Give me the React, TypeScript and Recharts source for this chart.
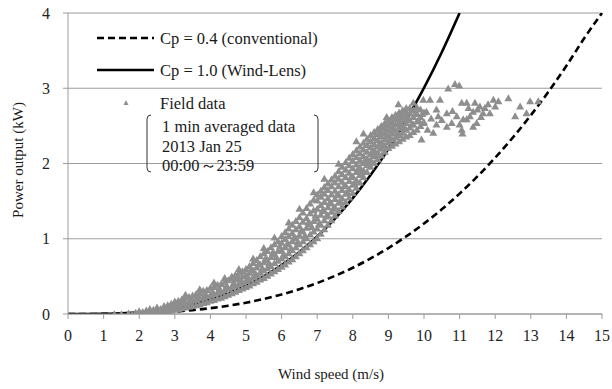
import { ComposedChart, Line, Scatter, XAxis, YAxis, CartesianGrid } from "recharts";

// theoretical curves, read at 0.5 m/s steps
const conventionalSpeeds = [
  0, 0.5, 1, 1.5, 2, 2.5, 3, 3.5, 4, 4.5, 5, 5.5, 6, 6.5, 7, 7.5, 8, 8.5, 9, 9.5, 10,
  10.5, 11, 11.5, 12, 12.5, 13, 13.5, 14, 14.5, 15,
];
const conventionalPower = [
  0, 0.0002, 0.0012, 0.004, 0.0096, 0.019, 0.032, 0.052, 0.077, 0.11, 0.15, 0.2, 0.26,
  0.33, 0.412, 0.507, 0.615, 0.738, 0.876, 1.031, 1.202, 1.391, 1.6, 1.828, 2.077,
  2.348, 2.641, 2.957, 3.298, 3.664, 4.0,
];
const windLensSpeeds = [
  0, 0.5, 1, 1.5, 2, 2.5, 3, 3.5, 4, 4.5, 5, 5.5, 6, 6.5, 7, 7.5, 8, 8.5, 9, 9.5, 10,
  10.5, 11,
];
const windLensPower = [
  0, 0.0004, 0.003, 0.01, 0.024, 0.047, 0.081, 0.129, 0.192, 0.274, 0.376, 0.5, 0.649,
  0.825, 1.031, 1.268, 1.539, 1.846, 2.191, 2.577, 3.005, 3.479, 4.0,
];

// field data: dense band, one column of readings per 0.1 m/s
const bandSpeeds = [
  2.0, 2.1, 2.2, 2.3, 2.4, 2.5, 2.6, 2.7, 2.8, 2.9, 3.0, 3.1, 3.2, 3.3, 3.4, 3.5, 3.6,
  3.7, 3.8, 3.9, 4.0, 4.1, 4.2, 4.3, 4.4, 4.5, 4.6, 4.7, 4.8, 4.9, 5.0, 5.1, 5.2, 5.3,
  5.4, 5.5, 5.6, 5.7, 5.8, 5.9, 6.0, 6.1, 6.2, 6.3, 6.4, 6.5, 6.6, 6.7, 6.8, 6.9, 7.0,
  7.1, 7.2, 7.3, 7.4, 7.5, 7.6, 7.7, 7.8, 7.9, 8.0, 8.1, 8.2, 8.3, 8.4, 8.5, 8.6, 8.7,
  8.8, 8.9, 9.0, 9.1, 9.2, 9.3, 9.4, 9.5, 9.6, 9.7, 9.8, 9.9, 10.0,
];
const bandPowers = [
  [0.01, 0.04], [0.0, 0.03], [0.02, 0.05], [0.01, 0.04, 0.07], [0.02, 0.06],
  [0.01, 0.05, 0.09], [0.03, 0.07], [0.02, 0.06, 0.11], [0.04, 0.08, 0.12],
  [0.05, 0.1, 0.14], [0.06, 0.11, 0.17], [0.07, 0.12, 0.18], [0.08, 0.14, 0.2],
  [0.09, 0.15, 0.22], [0.1, 0.16, 0.23], [0.11, 0.18, 0.25], [0.12, 0.19, 0.27],
  [0.13, 0.21, 0.28], [0.15, 0.22, 0.31], [0.16, 0.24, 0.32], [0.18, 0.25, 0.35],
  [0.19, 0.27, 0.36], [0.21, 0.29, 0.39], [0.22, 0.3, 0.4], [0.24, 0.32, 0.43],
  [0.26, 0.34, 0.45], [0.28, 0.36, 0.47, 0.5], [0.3, 0.38, 0.46, 0.52],
  [0.32, 0.4, 0.48, 0.55], [0.34, 0.42, 0.5, 0.57], [0.36, 0.44, 0.52, 0.6],
  [0.38, 0.46, 0.55, 0.64], [0.41, 0.49, 0.58, 0.68], [0.43, 0.52, 0.62, 0.72],
  [0.46, 0.55, 0.66, 0.77], [0.48, 0.58, 0.69, 0.81], [0.51, 0.61, 0.72, 0.84],
  [0.54, 0.64, 0.76, 0.89], [0.57, 0.68, 0.8, 0.93], [0.6, 0.71, 0.84, 0.97],
  [0.63, 0.74, 0.85, 0.95, 1.04], [0.66, 0.77, 0.89, 1.0, 1.09],
  [0.7, 0.81, 0.93, 1.04, 1.14], [0.73, 0.85, 0.97, 1.08, 1.19],
  [0.77, 0.89, 1.01, 1.13, 1.24], [0.81, 0.93, 1.05, 1.17, 1.29],
  [0.85, 0.97, 1.1, 1.23, 1.35], [0.89, 1.01, 1.15, 1.28, 1.41],
  [0.93, 1.06, 1.2, 1.34, 1.47], [0.97, 1.1, 1.24, 1.38, 1.52],
  [1.01, 1.14, 1.27, 1.4, 1.51, 1.59], [1.07, 1.19, 1.32, 1.45, 1.56, 1.64],
  [1.13, 1.25, 1.37, 1.49, 1.6, 1.69], [1.19, 1.31, 1.42, 1.54, 1.65, 1.74],
  [1.25, 1.36, 1.47, 1.59, 1.7, 1.79], [1.31, 1.42, 1.53, 1.64, 1.75, 1.84],
  [1.37, 1.48, 1.59, 1.7, 1.8, 1.9], [1.43, 1.54, 1.65, 1.76, 1.86, 1.96],
  [1.49, 1.6, 1.71, 1.82, 1.92, 2.02], [1.55, 1.66, 1.77, 1.88, 1.98, 2.08],
  [1.61, 1.72, 1.83, 1.94, 2.04, 2.13], [1.68, 1.78, 1.89, 1.99, 2.09, 2.18],
  [1.75, 1.85, 1.95, 2.05, 2.14, 2.23], [1.82, 1.91, 2.01, 2.1, 2.19, 2.28],
  [1.89, 1.98, 2.07, 2.16, 2.25, 2.33], [1.96, 2.05, 2.13, 2.22, 2.3, 2.38],
  [2.01, 2.1, 2.18, 2.26, 2.34, 2.42], [2.06, 2.15, 2.23, 2.31, 2.39, 2.46],
  [2.11, 2.2, 2.28, 2.36, 2.43, 2.5], [2.16, 2.24, 2.32, 2.4, 2.47, 2.54],
  [2.21, 2.29, 2.37, 2.44, 2.51, 2.58], [2.24, 2.32, 2.4, 2.48, 2.55, 2.62],
  [2.27, 2.35, 2.44, 2.52, 2.59, 2.65], [2.3, 2.38, 2.47, 2.55, 2.62, 2.68],
  [2.33, 2.41, 2.5, 2.58, 2.65, 2.71], [2.36, 2.45, 2.54, 2.62, 2.69, 2.74],
  [2.38, 2.48, 2.58, 2.67, 2.74], [2.42, 2.52, 2.62, 2.71], [2.45, 2.56, 2.66, 2.75],
  [2.5, 2.62, 2.72], [2.55, 2.68],
];
// field data: extra readings between the columns of the band (speed, power)
const bandInfill = [
  [3.05, 0.14], [3.25, 0.17], [3.45, 0.2], [3.65, 0.24], [3.85, 0.27], [4.05, 0.3],
  [4.25, 0.34], [4.45, 0.38], [4.65, 0.41], [4.85, 0.44], [5.05, 0.48], [5.15, 0.59],
  [5.25, 0.53], [5.35, 0.66], [5.45, 0.6], [5.55, 0.74], [5.65, 0.67], [5.75, 0.82],
  [5.85, 0.76], [5.95, 0.9], [6.05, 0.79], [6.15, 0.93], [6.25, 0.87], [6.35, 1.02],
  [6.45, 0.96], [6.55, 1.11], [6.65, 1.04], [6.75, 1.22], [6.85, 1.16], [6.95, 1.31],
  [7.05, 1.2], [7.15, 1.38], [7.25, 1.3], [7.35, 1.48], [7.45, 1.4], [7.55, 1.58],
  [7.65, 1.5], [7.75, 1.7], [7.85, 1.62], [7.95, 1.82], [8.05, 1.74], [8.15, 1.93],
  [8.25, 1.87], [8.35, 2.05], [8.45, 1.99], [8.55, 2.17], [8.65, 2.12], [8.75, 2.27],
  [8.85, 2.24], [8.95, 2.36], [9.05, 2.33], [9.15, 2.45], [9.25, 2.41], [9.35, 2.52],
  [9.45, 2.47], [9.55, 2.6], [9.65, 2.52], [9.75, 2.66], [9.85, 2.58], [9.95, 2.66],
];
// field data: scattered readings off the band (speed, power)
const scatteredReadings = [
  [9.28, 2.79], [9.7, 2.81], [9.98, 2.85], [10.17, 2.85], [10.45, 2.85], [10.68, 3.0],
  [10.87, 3.06], [10.99, 3.04], [11.06, 2.81], [11.25, 2.74], [8.95, 2.62], [9.79, 2.67],
  [10.07, 2.69], [10.35, 2.72], [10.64, 2.67], [10.92, 2.63], [11.1, 2.59], [9.98, 2.54],
  [10.35, 2.52], [10.64, 2.49], [11.06, 2.45], [9.93, 2.32], [10.26, 2.41], [10.78, 2.54],
  [10.2, 2.6], [10.5, 2.58], [10.1, 2.45], [10.4, 2.63], [10.8, 2.7], [11.0, 2.52],
  [12.37, 2.87], [11.2, 2.81], [11.43, 2.81], [11.57, 2.76], [11.95, 2.85], [12.09, 2.83],
  [12.0, 2.76], [12.7, 2.76], [12.98, 2.83], [13.21, 2.83], [12.56, 2.63], [12.88, 2.67],
  [11.85, 2.67], [11.66, 2.67], [11.38, 2.69], [11.2, 2.59], [11.38, 2.49], [11.08, 2.4],
  [11.29, 2.63], [11.71, 2.74], [11.48, 2.54], [11.6, 2.62], [11.5, 2.72], [11.8, 2.79],
  [8.3, 2.4], [8.1, 2.3], [7.6, 2.0], [7.2, 1.8], [6.9, 1.62], [6.5, 1.4], [6.2, 1.22],
  [5.8, 1.02], [5.5, 0.88], [5.2, 0.74], [4.8, 0.6], [4.4, 0.48], [4.1, 0.42], [3.7, 0.33],
  [3.3, 0.26], [1.3, 0.0], [1.5, 0.0], [1.7, 0.01], [1.8, 0.0], [1.9, 0.02],
];

const xTicks = [0, 1, 2, 3, 4, 5, 6, 7, 8, 9, 10, 11, 12, 13, 14, 15];
const yTicks = [0, 1, 2, 3, 4];

const conventionalData = conventionalSpeeds.map((v, i) => ({ v, p: conventionalPower[i] }));
const windLensData = windLensSpeeds.map((v, i) => ({ v, p: windLensPower[i] }));
const fieldData = [
  ...bandSpeeds.flatMap((v, i) => bandPowers[i].map((p) => ({ v, p }))),
  ...bandInfill.map(([v, p]) => ({ v, p })),
  ...scatteredReadings.map(([v, p]) => ({ v, p })),
];

const serif = '"Liberation Serif", "Times New Roman", serif';
const gridGrey = "#9c9c9c";
const fieldGrey = "#8e8e8e";
const tickStyle = { fill: "#1f1f1f", fontSize: 16, fontFamily: serif };

// small filled triangle like the spreadsheet marker
function FieldMarker(props: any) {
  const { cx, cy } = props;
  if (cx == null || cy == null) return null;
  return (
    <polygon
      points={`${cx},${cy - 3.8} ${cx - 4},${cy + 3.2} ${cx + 4},${cy + 3.2}`}
      fill={fieldGrey}
    />
  );
}

export default function App() {
  return (
    <div style={{ position: "absolute", left: 0, top: 0, width: 612, height: 389, background: "#fff" }}>
      <ComposedChart width={612} height={389} margin={{ top: 13, right: 10, bottom: 45, left: 0 }}>
        <CartesianGrid vertical={false} stroke={gridGrey} strokeWidth={1.2} />
        <XAxis
          dataKey="v"
          type="number"
          domain={[0, 15]}
          ticks={xTicks}
          height={30}
          stroke={gridGrey}
          tickSize={5}
          tickMargin={11}
          tick={tickStyle}
          interval={0}
        />
        <YAxis
          type="number"
          domain={[0, 4]}
          ticks={yTicks}
          width={68}
          stroke={gridGrey}
          tickSize={5}
          tickMargin={13}
          tick={tickStyle}
          allowDataOverflow
        />
        <Line
          data={conventionalData}
          dataKey="p"
          type="monotone"
          stroke="#000"
          strokeWidth={2.6}
          strokeDasharray="7 4"
          dot={false}
          isAnimationActive={false}
        />
        <Line
          data={windLensData}
          dataKey="p"
          type="monotone"
          stroke="#000"
          strokeWidth={2.6}
          dot={false}
          isAnimationActive={false}
        />
        <Scatter
          data={fieldData}
          dataKey="p"
          shape={<FieldMarker />}
          fill={fieldGrey}
          zIndex={700}
          isAnimationActive={false}
        />
      </ComposedChart>

      <svg
        width={612}
        height={389}
        style={{ position: "absolute", left: 0, top: 0, pointerEvents: "none" }}
        fontFamily={serif}
        fontSize={16.5}
        fill="#1a1a1a"
      >
        <line x1={97} y1={38} x2={154} y2={38} stroke="#000" strokeWidth={2.6} strokeDasharray="7 4" />
        <text x={160} y={43.5}>Cp = 0.4 (conventional)</text>
        <line x1={97} y1={70} x2={154} y2={70} stroke="#000" strokeWidth={2.6} />
        <text x={160} y={75.5}>Cp = 1.0 (Wind-Lens)</text>
        <polygon points="126,100 123.5,105 128.5,105" fill={fieldGrey} />
        <text x={160} y={108.5}>Field data</text>
        <path d="M151,115 Q147,115 147,119 L147,168 Q147,172 151,172" fill="none" stroke="#333" strokeWidth={1} />
        <path d="M314,115 Q318,115 318,119 L318,168 Q318,172 314,172" fill="none" stroke="#333" strokeWidth={1} />
        <text x={162} y={131.5}>1 min averaged data</text>
        <text x={162} y={152}>2013 Jan 25</text>
        <text x={162} y={170.5}>00:00～23:59</text>
        <text x={331} y={379} textAnchor="middle" fontSize={15}>Wind speed (m/s)</text>
        <text x={23} y={160} textAnchor="middle" fontSize={15} transform="rotate(-90 23 160)">
          Power output  (kW)
        </text>
      </svg>
    </div>
  );
}
